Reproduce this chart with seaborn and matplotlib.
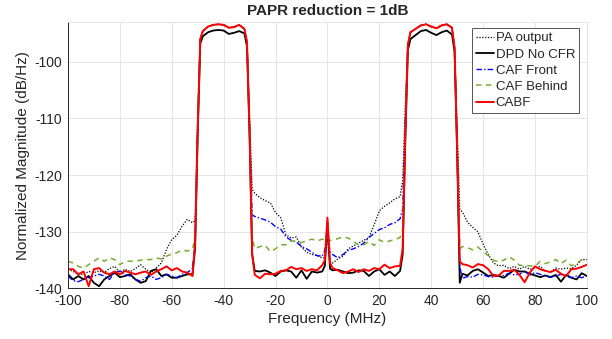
import matplotlib
matplotlib.use("Agg")
import matplotlib.pyplot as plt
import seaborn as sns

# frequency grid (MHz), finer around band edges and the DC spike
freq_mhz = [-100, -98, -96, -94, -92, -90, -88, -86, -84, -82, -80, -78, -76, -74, -72,
            -70, -68, -66, -64, -62, -60, -58, -56, -54, -52,
            -51, -50, -49,
            -48, -46, -44, -42, -40, -38, -36, -34, -32,
            -31, -30, -29,
            -28, -26, -24, -22, -20, -18, -16, -14, -12, -10, -8, -6, -4, -2,
            -1, 0, 1,
            2, 4, 6, 8, 10, 12, 14, 16, 18, 20, 22, 24, 26, 28,
            29, 30, 31,
            32, 34, 36, 38, 40, 42, 44, 46, 48,
            49, 50, 51,
            52, 54, 56, 58, 60, 62, 64, 66, 68, 70, 72, 74, 76, 78, 80,
            82, 84, 86, 88, 90, 92, 94, 96, 98, 100]

pa_output = [-136.6, -137.0, -137.5, -137.5, -137.0, -137.2, -136.9, -137.2, -136.5, -136.1,
             -137.2, -136.6, -137.0, -136.5, -135.8, -136.6, -137.2, -136.4, -135.5, -133.1,
             -131.4, -130.6, -129.0, -127.8, -128.4,
             -128.0, -110.0, -96.0,
             -94.6, -93.8, -93.5, -93.4, -93.5, -94.0, -93.9, -93.5, -94.2,
             -96.5, -110.0, -122.5,
             -123.2, -124.0, -124.5, -124.9, -126.6, -127.5, -130.5, -131.1, -130.9, -132.7,
             -133.6, -134.0, -134.2, -134.6,
             -134.6, -131.0, -135.2,
             -135.5, -134.8, -134.3, -133.0, -132.5, -132.0, -131.5, -131.0, -128.8, -126.3,
             -125.5, -124.9, -124.2, -123.8,
             -121.0, -108.0, -97.0,
             -94.8, -94.2, -93.6, -93.4, -93.8, -94.1, -93.6, -93.4, -94.0,
             -97.5, -112.0, -126.0,
             -126.5, -128.3, -129.2, -130.0, -132.2, -134.0, -135.5, -136.0, -135.9, -136.5,
             -136.1, -136.6, -136.1, -136.6, -136.4, -136.1, -136.9, -137.1, -136.4, -136.6,
             -136.4, -136.5, -135.9, -134.9, -134.9]

dpd_no_cfr = [-137.5, -138.4, -137.8, -138.4, -137.8, -139.0, -139.6, -138.4, -137.8, -137.2,
              -138.0, -137.8, -137.5, -138.4, -139.0, -138.7, -136.9, -136.6, -137.8, -137.5,
              -138.1, -138.1, -137.8, -137.5, -137.5,
              -133.0, -113.0, -96.8,
              -95.5, -94.8, -94.5, -94.4, -94.5, -95.1, -94.9, -94.6, -95.0,
              -97.3, -113.0, -134.0,
              -136.9, -137.0, -136.8, -137.2, -137.8, -137.0, -136.8, -137.0, -138.1, -136.8,
              -138.3, -137.0, -137.2, -137.0,
              -136.0, -128.4, -136.5,
              -136.8, -136.7, -137.0, -137.3, -137.2, -136.8, -136.9, -137.8, -137.0, -136.6,
              -137.6, -137.0, -137.8, -136.9,
              -134.0, -114.0, -98.0,
              -96.0, -95.3, -94.6, -94.4, -94.9, -95.3, -94.8, -94.5, -95.2,
              -98.2, -116.0, -139.0,
              -137.4, -137.7, -136.9, -136.6, -137.2, -137.8, -137.6, -137.8, -138.1, -137.4,
              -136.7, -137.0, -137.0, -137.4, -137.7, -138.0, -137.7, -138.0, -137.6, -138.8,
              -137.6, -138.1, -138.4, -137.3, -137.8]

caf_front = [-137.8, -138.6, -138.8, -138.4, -138.1, -137.8, -137.5, -137.8, -138.4, -137.2,
             -136.9, -137.5, -137.8, -138.4, -138.7, -138.1, -137.8, -138.4, -138.1, -137.5,
             -137.8, -138.1, -137.5, -137.2, -136.5,
             -132.0, -112.0, -96.0,
             -94.6, -93.8, -93.5, -93.4, -93.5, -94.0, -93.9, -93.5, -94.2,
             -96.5, -112.0, -127.0,
             -127.3, -127.6, -127.9, -128.3, -129.1, -129.5, -130.9, -131.5, -131.8, -132.6,
             -133.0, -133.6, -134.2, -134.3,
             -133.3, -130.0, -133.5,
             -134.0, -134.6, -134.0, -133.3, -133.0, -132.6, -132.0, -131.0, -130.3, -129.6,
             -129.3, -128.7, -128.4, -127.7,
             -126.0, -110.0, -97.0,
             -94.8, -94.2, -93.6, -93.4, -93.8, -94.1, -93.6, -93.4, -94.0,
             -97.5, -115.6, -136.1,
             -138.2, -137.9, -138.0, -137.5, -137.6, -137.9, -138.0, -137.7, -137.7, -137.3,
             -137.6, -137.5, -137.0, -137.6, -137.2, -137.5, -137.8, -138.0, -137.8, -137.5,
             -137.8, -138.1, -137.8, -138.1, -137.8]

caf_behind = [-135.2, -135.5, -136.1, -136.4, -135.8, -135.2, -134.6, -135.2, -134.6, -134.9,
              -135.8, -135.2, -135.2, -135.2, -135.0, -134.9, -134.9, -134.6, -134.8, -134.3,
              -133.9, -133.7, -133.2, -133.4, -133.1,
              -131.0, -112.0, -96.0,
              -94.6, -93.8, -93.5, -93.4, -93.5, -94.0, -93.9, -93.5, -94.2,
              -96.5, -112.0, -131.0,
              -133.0, -132.6, -132.4, -133.5, -133.0, -132.3, -132.3, -131.6, -131.7, -131.9,
              -131.6, -131.3, -131.6, -131.3,
              -131.4, -131.0, -131.5,
              -131.5, -131.2, -130.9, -131.1, -131.7, -132.3, -132.3, -131.7, -132.4, -131.4,
              -131.9, -131.6, -131.4, -131.0,
              -129.5, -111.0, -97.0,
              -94.8, -94.2, -93.6, -93.4, -93.8, -94.1, -93.6, -93.4, -94.0,
              -97.5, -115.6, -133.0,
              -132.6, -132.8, -133.2, -132.7, -133.5, -134.2, -135.0, -135.3, -135.0, -134.4,
              -135.0, -135.9, -135.9, -136.0, -136.1, -135.2, -135.6, -135.3, -134.9, -135.6,
              -135.0, -136.0, -135.5, -135.0, -135.2]

cabf = [-136.6, -136.6, -137.5, -137.0, -139.6, -136.6, -136.4, -137.2, -137.5, -137.0,
        -137.5, -136.9, -137.2, -137.5, -137.2, -137.0, -137.6, -137.0, -136.6, -136.1,
        -136.8, -136.4, -137.0, -137.2, -137.8,
        -132.0, -112.0, -96.0,
        -94.6, -93.8, -93.5, -93.4, -93.5, -94.0, -93.9, -93.5, -94.2,
        -96.5, -112.0, -134.0,
        -137.6, -138.2, -137.4, -137.5, -137.4, -136.9, -136.8, -136.2, -136.6, -136.4,
        -136.9, -136.6, -136.8, -135.9,
        -135.0, -127.5, -135.5,
        -136.4, -136.8, -137.3, -137.0, -136.6, -137.1, -136.6, -136.9, -136.4, -136.6,
        -135.8, -136.4, -136.1, -136.0,
        -133.0, -113.0, -97.0,
        -94.8, -94.2, -93.6, -93.4, -93.8, -94.1, -93.6, -93.4, -94.0,
        -97.5, -115.6, -135.2,
        -135.7, -135.9, -136.3, -135.7, -135.9, -136.6, -137.8, -137.7, -136.9, -136.9,
        -136.7, -137.6, -138.9, -137.2, -136.1, -136.6, -136.9, -137.1, -136.7, -137.4,
        -137.8, -136.6, -136.5, -136.2, -135.8]

sns.set_style("white")
plt.rcParams['font.family'] = ['Liberation Sans', 'DejaVu Sans']
plt.rcParams['axes.unicode_minus'] = False

fig = plt.figure(figsize=(6.12, 3.39), dpi=100)
ax = fig.add_axes([0.111, 0.149, 0.848, 0.786])

series = [
    ("PA output", pa_output, "#000000", (0, (1, 1.3)), 0.9),
    ("DPD No CFR", dpd_no_cfr, "#000000", "-", 1.3),
    ("CAF Front", caf_front, "#0000ff", (0, (4, 1.5, 1, 1.5)), 1.0),
    ("CAF Behind", caf_behind, "#77ac30", (0, (3.5, 3)), 1.1),
    ("CABF", cabf, "#ff0000", "-", 1.4),
]
for name, vals, col, ls, lw in series:
    sns.lineplot(x=freq_mhz, y=vals, ax=ax, color=col, linestyle=ls, linewidth=lw,
                 label=name, sort=False, estimator=None)

ax.set_xlim(-100, 100)
ax.set_ylim(-140, -93)
ax.set_xticks(range(-100, 101, 20))
ax.set_yticks(range(-140, -99, 10))
ax.grid(True, color="#e2e2e2", linewidth=0.6)

for s in ["left", "bottom"]:
    ax.spines[s].set_color("#262626")
    ax.spines[s].set_linewidth(0.7)
for s in ["top", "right"]:
    ax.spines[s].set_color("#e2e2e2")
    ax.spines[s].set_linewidth(0.6)
ax.tick_params(direction="in", length=3, width=0.6, color="#262626",
               labelcolor="#262626", labelsize=10, pad=4)

ax.set_xlabel("Frequency (MHz)", fontsize=11, color="#262626", labelpad=3)
ax.set_ylabel("Normalized Magnitude (dB/Hz)", fontsize=11, color="#262626", labelpad=3)
ax.set_title("PAPR reduction = 1dB", fontsize=11, fontweight="bold", pad=5)

leg = ax.legend(loc="upper right", bbox_to_anchor=(0.985, 0.977), borderaxespad=0,
                fontsize=9.5, frameon=True, fancybox=False, framealpha=1,
                edgecolor="#555555", handlelength=1.4, handletextpad=0.1,
                labelspacing=0.3, borderpad=0.3)
leg.get_frame().set_linewidth(0.7)

fig.savefig("out.png", dpi=100)
